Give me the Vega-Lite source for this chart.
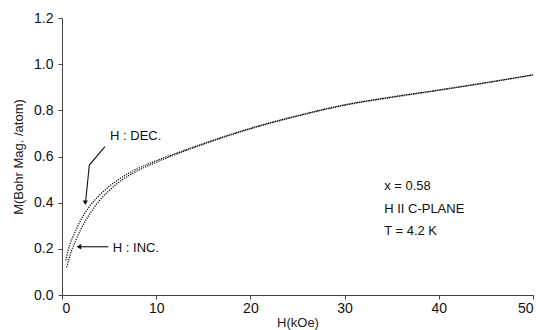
{
  "$schema": "https://vega.github.io/schema/vega-lite/v6.json",
  "width": 471,
  "height": 277,
  "autosize": {"type": "none"},
  "padding": {"left": 62, "top": 18, "right": 6, "bottom": 35},
  "background": "white",
  "config": {
    "view": {"stroke": null},
    "font": "Liberation Sans",
    "axis": {
      "grid": false,
      "domainColor": "#444",
      "tickColor": "#444",
      "tickSize": 4,
      "labelFont": "Liberation Sans",
      "labelFontSize": 14,
      "labelColor": "#111",
      "titleFont": "Liberation Sans",
      "titleFontSize": 13,
      "titleFontWeight": "normal",
      "titleColor": "#222"
    }
  },
  "datasets": {
    "curve": [
      {"branch": "INC", "H": 0.5, "M": 0.12},
      {"branch": "INC", "H": 1.0, "M": 0.19},
      {"branch": "INC", "H": 1.5, "M": 0.24},
      {"branch": "INC", "H": 2.0, "M": 0.285},
      {"branch": "INC", "H": 3.0, "M": 0.355},
      {"branch": "INC", "H": 4.0, "M": 0.41},
      {"branch": "INC", "H": 5.0, "M": 0.452},
      {"branch": "INC", "H": 6.0, "M": 0.487},
      {"branch": "INC", "H": 8.0, "M": 0.538},
      {"branch": "INC", "H": 10.0, "M": 0.575},
      {"branch": "INC", "H": 12.0, "M": 0.608},
      {"branch": "INC", "H": 15.0, "M": 0.653},
      {"branch": "INC", "H": 20.0, "M": 0.72},
      {"branch": "INC", "H": 25.0, "M": 0.775},
      {"branch": "INC", "H": 30.0, "M": 0.822},
      {"branch": "INC", "H": 35.0, "M": 0.856},
      {"branch": "INC", "H": 40.0, "M": 0.887},
      {"branch": "INC", "H": 45.0, "M": 0.919},
      {"branch": "INC", "H": 50.0, "M": 0.953},
      {"branch": "DEC", "H": 0.4, "M": 0.15},
      {"branch": "DEC", "H": 0.8, "M": 0.215},
      {"branch": "DEC", "H": 1.3, "M": 0.265},
      {"branch": "DEC", "H": 2.0, "M": 0.325},
      {"branch": "DEC", "H": 3.0, "M": 0.388},
      {"branch": "DEC", "H": 4.0, "M": 0.433},
      {"branch": "DEC", "H": 5.0, "M": 0.47},
      {"branch": "DEC", "H": 6.0, "M": 0.5},
      {"branch": "DEC", "H": 8.0, "M": 0.547},
      {"branch": "DEC", "H": 10.0, "M": 0.582},
      {"branch": "DEC", "H": 12.0, "M": 0.612},
      {"branch": "DEC", "H": 15.0, "M": 0.656},
      {"branch": "DEC", "H": 20.0, "M": 0.722},
      {"branch": "DEC", "H": 25.0, "M": 0.777},
      {"branch": "DEC", "H": 30.0, "M": 0.824},
      {"branch": "DEC", "H": 35.0, "M": 0.858},
      {"branch": "DEC", "H": 40.0, "M": 0.888},
      {"branch": "DEC", "H": 45.0, "M": 0.92},
      {"branch": "DEC", "H": 50.0, "M": 0.954}
    ],
    "arrows": [
      {"seg": "dec", "order": 1, "H": 4.56, "M": 0.643},
      {"seg": "dec", "order": 2, "H": 2.9, "M": 0.563},
      {"seg": "dec", "order": 3, "H": 2.5, "M": 0.40},
      {"seg": "inc", "order": 1, "H": 4.92, "M": 0.209},
      {"seg": "inc", "order": 2, "H": 1.8, "M": 0.209}
    ],
    "heads": [
      {"H": 2.47, "M": 0.40, "shape": "triangle-down"},
      {"H": 1.8, "M": 0.209, "shape": "triangle-left"}
    ],
    "labels": [
      {"H": 5.1, "M": 0.69, "text": "H : DEC."},
      {"H": 5.4, "M": 0.205, "text": "H : INC."},
      {"H": 34.2, "M": 0.472, "text": "x = 0.58"},
      {"H": 34.2, "M": 0.372, "text": "H II C-PLANE"},
      {"H": 34.2, "M": 0.276, "text": "T = 4.2 K"}
    ]
  },
  "layer": [
    {
      "data": {"name": "curve"},
      "mark": {"type": "line", "color": "#111", "strokeWidth": 1.3, "strokeDash": [1.2, 1.2], "interpolate": "monotone"},
      "encoding": {
        "x": {"field": "H", "type": "quantitative", "scale": {"domain": [0, 50], "nice": false},
              "axis": {"values": [0, 10, 20, 30, 40, 50], "title": "H(kOe)", "labelPadding": 2, "titlePadding": 1}},
        "y": {"field": "M", "type": "quantitative", "scale": {"domain": [0, 1.2], "nice": false},
              "axis": {"values": [0, 0.2, 0.4, 0.6, 0.8, 1.0, 1.2], "format": ".1f", "title": "M(Bohr Mag. /atom)", "labelPadding": 5, "titlePadding": 8}},
        "detail": {"field": "branch"}
      }
    },
    {
      "data": {"name": "arrows"},
      "mark": {"type": "line", "color": "#111", "strokeWidth": 1.1},
      "encoding": {
        "x": {"field": "H", "type": "quantitative"},
        "y": {"field": "M", "type": "quantitative"},
        "detail": {"field": "seg"},
        "order": {"field": "order"}
      }
    },
    {
      "data": {"name": "heads"},
      "mark": {"type": "point", "filled": true, "color": "#111", "size": 28, "opacity": 1},
      "encoding": {
        "x": {"field": "H", "type": "quantitative"},
        "y": {"field": "M", "type": "quantitative"},
        "shape": {"field": "shape", "type": "nominal", "scale": null}
      }
    },
    {
      "data": {"name": "labels"},
      "mark": {"type": "text", "align": "left", "baseline": "middle", "fontSize": 13, "font": "Liberation Sans", "color": "#111"},
      "encoding": {
        "x": {"field": "H", "type": "quantitative"},
        "y": {"field": "M", "type": "quantitative"},
        "text": {"field": "text"}
      }
    }
  ]
}
